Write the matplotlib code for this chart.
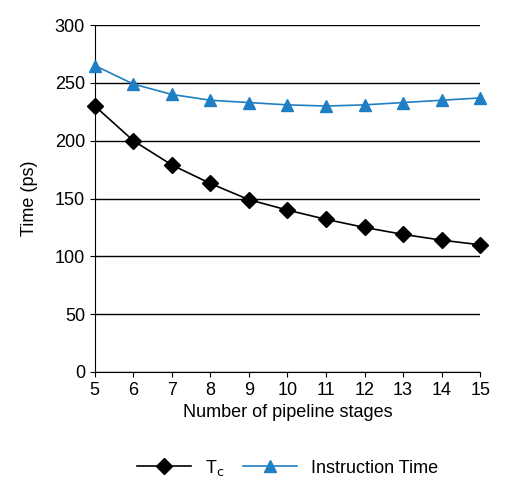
import matplotlib.pyplot as plt

stages = [5, 6, 7, 8, 9, 10, 11, 12, 13, 14, 15]
tc = [230, 200, 179, 163, 149, 140, 132, 125, 119, 114, 110]
instr_time = [265, 249, 240, 235, 233, 231, 230, 231, 233, 235, 237]

plt.rcParams["font.family"] = ["Liberation Sans", "DejaVu Sans"]
fig = plt.figure(figsize=(5.07, 4.92), dpi=100)
ax = fig.add_axes([0.187, 0.244, 0.76, 0.705])

ax.plot(stages, tc, color="black", marker="D", markersize=8, linewidth=1.2,
        label="T$_\\mathrm{c}$", clip_on=False, zorder=3)
ax.plot(stages, instr_time, color="#1f7fc4", marker="^", markersize=9, linewidth=1.2,
        label="Instruction Time", clip_on=False, zorder=3)

ax.set_xlim(5, 15)
ax.set_ylim(0, 300)
ax.set_xticks(stages)
ax.set_yticks(range(0, 301, 50))
ax.yaxis.grid(True, color="black", linewidth=1)
ax.set_axisbelow(True)
for s in ["top", "right"]:
    ax.spines[s].set_visible(False)
ax.tick_params(labelsize=13, direction="out")
ax.set_xlabel("Number of pipeline stages", fontsize=13)
ax.set_ylabel("Time (ps)", fontsize=13, labelpad=12)
ax.legend(loc="upper center", bbox_to_anchor=(0.5, -0.2), ncol=2, frameon=False,
          fontsize=13, handlelength=3, columnspacing=1.0)

fig.savefig("out.png", dpi=100)
